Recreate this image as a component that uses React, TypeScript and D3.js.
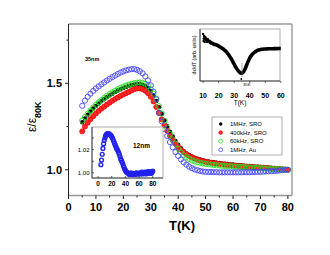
import React from 'react';
import * as d3 from 'd3';

// main plot: eps(T)/eps(80K), 35 nm film
const temps = d3.range(5, 81);

const sro1MHz = [1.275, 1.297, 1.318, 1.337, 1.354, 1.369, 1.383, 1.396, 1.408, 1.419, 1.43, 1.44, 1.449, 1.458, 1.466, 1.473, 1.479, 1.485, 1.49, 1.493,
  1.495, 1.495, 1.492, 1.485, 1.473, 1.455, 1.43, 1.398, 1.362, 1.324, 1.287, 1.252, 1.22, 1.192, 1.167, 1.145, 1.125, 1.108, 1.095, 1.085,
  1.077, 1.07, 1.064, 1.059, 1.055, 1.051, 1.048, 1.045, 1.043, 1.041, 1.039, 1.037, 1.035, 1.033, 1.031, 1.03, 1.028, 1.027, 1.025, 1.024,
  1.022, 1.021, 1.02, 1.018, 1.017, 1.016, 1.014, 1.013, 1.012, 1.01, 1.009, 1.007, 1.006, 1.004, 1.002, 1.0];

const sro400kHz = [1.222, 1.25, 1.272, 1.292, 1.31, 1.326, 1.34, 1.353, 1.365, 1.377, 1.388, 1.399, 1.409, 1.418, 1.427, 1.435, 1.443, 1.45, 1.459, 1.466,
  1.47, 1.47, 1.466, 1.457, 1.443, 1.422, 1.395, 1.363, 1.328, 1.292, 1.257, 1.225, 1.196, 1.171, 1.15, 1.132, 1.116, 1.102, 1.09, 1.08,
  1.072, 1.065, 1.059, 1.054, 1.05, 1.046, 1.043, 1.04, 1.038, 1.036, 1.034, 1.032, 1.03, 1.028, 1.027, 1.025, 1.024, 1.022, 1.021, 1.02,
  1.018, 1.017, 1.016, 1.015, 1.014, 1.013, 1.012, 1.011, 1.01, 1.008, 1.007, 1.006, 1.005, 1.003, 1.002, 1.0];

const sro60kHz = [1.284, 1.305, 1.325, 1.343, 1.36, 1.375, 1.39, 1.403, 1.415, 1.427, 1.438, 1.448, 1.457, 1.466, 1.474, 1.481, 1.487, 1.492, 1.497, 1.501,
  1.504, 1.505, 1.503, 1.497, 1.485, 1.466, 1.44, 1.406, 1.367, 1.325, 1.283, 1.243, 1.207, 1.176, 1.15, 1.12, 1.1, 1.085, 1.073, 1.063,
  1.055, 1.049, 1.044, 1.04, 1.037, 1.034, 1.032, 1.03, 1.028, 1.026, 1.025, 1.023, 1.022, 1.021, 1.02, 1.019, 1.018, 1.017, 1.016, 1.015,
  1.014, 1.013, 1.012, 1.011, 1.01, 1.009, 1.008, 1.007, 1.006, 1.005, 1.004, 1.003, 1.003, 1.002, 1.001, 1.0];

const au1MHz = [1.37, 1.4, 1.422, 1.44, 1.456, 1.47, 1.482, 1.494, 1.505, 1.516, 1.526, 1.536, 1.545, 1.554, 1.562, 1.569, 1.575, 1.579, 1.582, 1.582,
  1.578, 1.57, 1.558, 1.54, 1.517, 1.488, 1.452, 1.41, 1.33, 1.28, 1.235, 1.195, 1.16, 1.13, 1.103, 1.08, 1.06, 1.043, 1.03, 1.018,
  1.009, 1.002, 0.997, 0.993, 0.99, 0.988, 0.987, 0.987, 0.986, 0.986, 0.985, 0.985, 0.985, 0.985, 0.985, 0.985, 0.985, 0.985, 0.985, 0.986,
  0.986, 0.986, 0.987, 0.987, 0.988, 0.988, 0.989, 0.99, 0.991, 0.992, 0.993, 0.994, 0.996, 0.997, 0.999, 1.0];

const legendLabels = ['1MHz, SRO', '400kHz, SRO', '60kHz, SRO', '1MHz, Au'];

// top inset: d eps / dT
const derivT = d3.range(10, 61);
const derivVals = [0.827, 0.808, 0.788, 0.769, 0.75, 0.721, 0.712, 0.692, 0.683, 0.673, 0.654, 0.635, 0.615, 0.596, 0.567, 0.538, 0.5, 0.452, 0.404, 0.346,
  0.288, 0.231, 0.183, 0.144, 0.115, 0.106, 0.135, 0.192, 0.269, 0.346, 0.413, 0.462, 0.5, 0.529, 0.548, 0.567, 0.577, 0.587, 0.59, 0.596,
  0.596, 0.598, 0.6, 0.6, 0.602, 0.602, 0.604, 0.604, 0.604, 0.606, 0.606];
const derivNoiseT = [10, 10.3, 10.6, 11, 11.4, 12, 12.5, 13];
const derivNoiseV = [0.9, 0.76, 0.86, 0.74, 0.84, 0.8, 0.74, 0.8];

// bottom inset: 12 nm film
const thinT = d3.range(4, 81);
const thinVals = [1.007, 1.011, 1.016, 1.021, 1.025, 1.028, 1.03, 1.032, 1.033, 1.0335, 1.0338, 1.0338, 1.0335, 1.033, 1.0325, 1.032, 1.031, 1.030, 1.0285, 1.027,
  1.0255, 1.024, 1.0225, 1.021, 1.020, 1.019, 1.0175, 1.016, 1.014, 1.012, 1.0108, 1.0095, 1.008, 1.006, 1.0045, 1.003, 1.002, 1.001, 1.0005, 1.000,
  0.9995, 0.999, 0.9985, 0.999, 1.0, 0.999, 0.9985, 0.999, 0.9995, 0.999, 0.9985, 0.999, 1.0, 0.999, 0.9995, 0.999, 0.9995, 1.0, 0.999, 0.9995,
  1.0005, 0.999, 1.0, 0.9995, 1.0005, 1.0, 0.999, 1.0005, 1.0, 1.001, 0.9995, 1.0, 1.001, 1.0, 0.9995, 1.0005, 1.0015];

const font = "'Liberation Sans', Arial, sans-serif";

export default function App() {
  const x = d3.scaleLinear().domain([0, 81.5]).range([68.5, 292]);
  const y = d3.scaleLinear().domain([0.854, 1.843]).range([195, 24]);

  const ix = d3.scaleLinear().domain([8, 59.5]).range([200, 280]);
  const iy = d3.scaleLinear().domain([-0.05, 1]).range([81, 29]);

  const bx = d3.scaleLinear().domain([-9, 95]).range([92, 163]);
  const by = d3.scaleLinear().domain([0.9955, 1.0395]).range([178, 127]);

  const derivLine = d3.line<number>().x((d, i) => ix(derivT[i])).y(d => iy(d)).curve(d3.curveMonotoneX);

  const xMajor = d3.range(0, 81, 10);
  const xMinor = d3.range(5, 81, 10);

  return (
    <svg width={330} height={255} style={{position: 'absolute', left: 0, top: 0, background: '#fff'}} fontFamily={font}>
      {/* main series */}
      {sro1MHz.map((v, i) => <circle key={'k' + i} cx={x(temps[i])} cy={y(v)} r={2.2} fill="#000" />)}
      {sro400kHz.map((v, i) => <circle key={'r' + i} cx={x(temps[i])} cy={y(v)} r={2.5} fill="#ff2a2a" stroke="#ee0000" strokeWidth={0.8} />)}
      {sro60kHz.map((v, i) => <circle key={'g' + i} cx={x(temps[i])} cy={y(v)} r={2.6} fill="none" stroke="#22dd22" strokeWidth={0.9} />)}
      {au1MHz.map((v, i) => <circle key={'b' + i} cx={x(temps[i])} cy={y(v)} r={2.6} fill="none" stroke="#4444ff" strokeWidth={0.9} />)}

      {/* main frame */}
      <line x1={68.5} x2={292} y1={24} y2={24} stroke="#999" strokeWidth={1.6} />
      <line x1={292} x2={292} y1={24} y2={195.5} stroke="#999" strokeWidth={1.4} />
      <line x1={68.5} x2={292} y1={195.5} y2={195.5} stroke="#999" strokeWidth={1.4} />
      <line x1={68.5} x2={68.5} y1={24} y2={196} stroke="#222" strokeWidth={1} />
      {xMajor.map(t => <line key={'xt' + t} x1={x(t)} x2={x(t)} y1={195.5} y2={199} stroke="#222" />)}
      {xMinor.map(t => <line key={'xm' + t} x1={x(t)} x2={x(t)} y1={195.5} y2={197.5} stroke="#222" />)}
      {xMajor.map(t => (
        <text key={'xl' + t} x={x(t)} y={211} textAnchor="middle" fontSize={11} fontWeight="bold">{t}</text>
      ))}
      {[1.0, 1.5].map(v => <line key={'yt' + v} x1={65} x2={68.5} y1={y(v)} y2={y(v)} stroke="#222" />)}
      {[1.25, 1.75].map(v => <line key={'ym' + v} x1={66.5} x2={68.5} y1={y(v)} y2={y(v)} stroke="#222" />)}
      {[1.0, 1.5].map(v => (
        <text key={'yl' + v} x={62} y={y(v) + 4} textAnchor="end" fontSize={11} fontWeight="bold">{v.toFixed(1)}</text>
      ))}
      <text x={182} y={230} textAnchor="middle" fontSize={13} fontWeight="bold">T(K)</text>
      <text transform="translate(36,132) rotate(-90)" fontSize={12}>
        ε/ε<tspan dy={5} fontSize={9} fontWeight="bold">80K</tspan>
      </text>
      <text x={85} y={61} fontSize={5.5} fontWeight="bold">35nm</text>

      {/* legend */}
      <rect x={212} y={117} width={70} height={38} fill="#fff" stroke="#999" strokeWidth={0.8} />
      {legendLabels.map((s, i) => {
        const ly = 124 + i * 8.6;
        return (
          <g key={s}>
            {i === 0 && <circle cx={220.7} cy={ly} r={1.7} fill="#000" />}
            {i === 1 && <circle cx={220.7} cy={ly} r={1.8} fill="#ff2a2a" stroke="#ee0000" strokeWidth={0.7} />}
            {i === 2 && <circle cx={220.7} cy={ly} r={1.9} fill="none" stroke="#22dd22" strokeWidth={0.8} />}
            {i === 3 && <circle cx={220.7} cy={ly} r={1.9} fill="none" stroke="#4444ff" strokeWidth={0.8} />}
            <text x={230} y={ly + 2} fontSize={6}>{s}</text>
          </g>
        );
      })}

      {/* top inset */}
      <rect x={200} y={29} width={80} height={52} fill="#fff" stroke="#999" strokeWidth={0.8} />
      <line x1={200} x2={200} y1={29} y2={81} stroke="#222" strokeWidth={0.8} />
      <line x1={200} x2={280} y1={81} y2={81} stroke="#222" strokeWidth={0.8} />
      <path d={derivLine(derivVals) || ''} fill="none" stroke="#000" strokeWidth={3.6} />
      {derivNoiseV.map((v, i) => <circle key={'dn' + i} cx={ix(derivNoiseT[i])} cy={iy(v)} r={1.2} fill="#000" />)}
      <line x1={ix(35)} x2={ix(35)} y1={63} y2={77} stroke="#777" strokeWidth={0.6} />
      <circle cx={ix(34.6)} cy={79} r={0.9} fill="#000" />
      <text x={ix(35) + 1} y={86} fontSize={4.3}>35K</text>
      {d3.range(10, 61, 10).map(t => (
        <g key={'it' + t}>
          <line x1={ix(t)} x2={ix(t)} y1={81} y2={83} stroke="#222" strokeWidth={0.7} />
          <text x={ix(t)} y={97.5} textAnchor="middle" fontSize={7} fontWeight="bold">{t}</text>
        </g>
      ))}
      <text x={240} y={105} textAnchor="middle" fontSize={6.5}>T(K)</text>
      <text transform="translate(195.5,55) rotate(-90)" textAnchor="middle" fontSize={5.2}>dε/dT (arb. units)</text>

      {/* bottom inset */}
      <rect x={92} y={127} width={71} height={51} fill="#fff" stroke="#999" strokeWidth={0.8} />
      <line x1={92} x2={92} y1={127} y2={178} stroke="#222" strokeWidth={0.8} />
      <line x1={92} x2={163} y1={178} y2={178} stroke="#222" strokeWidth={0.8} />
      {thinVals.map((v, i) => <circle key={'t' + i} cx={bx(thinT[i])} cy={by(v)} r={1.9} fill="none" stroke="#2222ee" strokeWidth={1.4} />)}
      {[1.0, 1.01, 1.02, 1.03].map(v => <line key={'bt' + v} x1={92} x2={94} y1={by(v)} y2={by(v)} stroke="#222" strokeWidth={0.7} />)}
      {[1.0, 1.02].map(v => (
        <text key={'bl' + v} x={89.5} y={by(v) + 2} textAnchor="end" fontSize={6}>{v.toFixed(2)}</text>
      ))}
      {d3.range(0, 81, 20).map(t => (
        <g key={'bx' + t}>
          <line x1={bx(t)} x2={bx(t)} y1={178} y2={176} stroke="#222" strokeWidth={0.7} />
          <text x={bx(t)} y={186} textAnchor="middle" fontSize={6.5} fontWeight="bold">{t}</text>
        </g>
      ))}
      <text x={133} y={148} fontSize={6.5} fontWeight="bold">12nm</text>
    </svg>
  );
}
